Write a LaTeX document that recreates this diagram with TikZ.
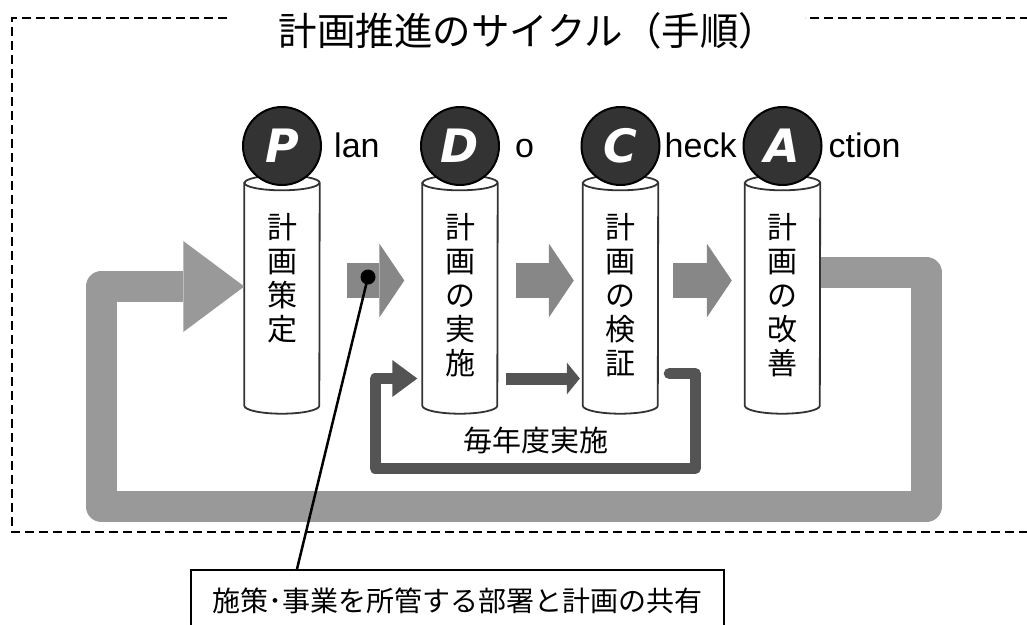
\documentclass[tikz,border=0pt]{standalone}
\usepackage{fontspec}
\setmainfont{Noto Sans CJK JP}
\newfontfamily\latinfont{Liberation Sans}
\newfontfamily\badgefont{DejaVu Sans}
\usetikzlibrary{arrows.meta,positioning}

\begin{document}
\begin{tikzpicture}[
    x=1pt, y=-1pt,
    pillar/.style={rectangle,minimum width=75pt,minimum height=238pt,inner sep=0pt},
    pillarline/.style={draw=black!80,line width=1.8pt,fill=white},
    badge/.style={circle,draw=black,line width=2pt,fill=black!80,minimum size=78pt,
                  inner sep=0pt,text=white,
                  font=\badgefont\bfseries\itshape\fontsize{46}{46}\selectfont},
    tail/.style={anchor=base west,inner sep=0pt,font=\latinfont\fontsize{34}{34}\selectfont},
    coltext/.style={align=center,inner sep=0pt,font=\fontsize{30}{34}\selectfont},
    steparrow/.style={draw=black!47,line width=35pt,
                      -{Triangle[width=74pt,length=25pt,line width=0pt]}},
    yeararrow/.style={draw=black!67,line width=12pt,
                      -{Triangle[width=32pt,length=13pt,line width=0pt]}},
    innerloop/.style={draw=black!67,line width=11pt,line join=round,line cap=round,
                      -{Triangle[width=37pt,length=25pt,line width=0pt]}},
    outerloop/.style={draw=black!40,line width=31pt,line join=round,
                      -{Triangle[width=91pt,length=61pt,line width=0pt]}},
    frame/.style={dash pattern=on 9pt off 5pt,line width=1.3pt},
  ]
  \useasboundingbox (0,0) rectangle (1027,624);

  % --- dashed frame and title ---
  \draw[frame] (227,18) -- (12,18) -- (12,532) -- (1040,532) -- (1040,18) -- (805,18);
  \node[font=\fontsize{38.5}{40}\selectfont] (title) at (528,31) {計画推進のサイクル（手順）};

  % --- the four pillars ---
  \node[pillar] (plan)   at (282,294.5)   {};
  \node[pillar] (do)     at (460,294.5)   {};
  \node[pillar] (check)  at (620.5,294.5) {};
  \node[pillar] (action) at (782.5,294.5) {};
  \foreach \n in {plan,do,check,action} {
    \draw[pillarline] ([yshift=-7.5pt]\n.north west) -- ([yshift=8pt]\n.south west)
         arc[start angle=180,end angle=360,x radius=37.5pt,y radius=8pt]
         -- ([yshift=-7.5pt]\n.north east)
         arc[start angle=0,end angle=180,x radius=37.5pt,y radius=7.5pt] -- cycle;
    \draw[pillarline,fill=none] ([yshift=-7.5pt]\n.north west)
         arc[start angle=180,end angle=360,x radius=37.5pt,y radius=7.5pt];
  }

  \node[coltext,below=38pt of plan.north]   (plantext)   {計\\画\\策\\定};
  \node[coltext,below=38pt of do.north]     (dotext)     {計\\画\\の\\実\\施};
  \node[coltext,below=38pt of check.north]  (checktext)  {計\\画\\の\\検\\証};
  \node[coltext,below=38pt of action.north] (actiontext) {計\\画\\の\\改\\善};

  % --- big yearly-plan loop ---
  \draw[outerloop,shorten <=1pt] ([yshift=22pt]action.east) -- ++(106,0) -- ++(0,234)
       -| ([xshift=-143pt,yshift=8pt]plan.west) -- ([yshift=8pt]plan.west);

  % --- step arrows ---
  \draw[steparrow,shorten <=27pt,shorten >=18pt] ([yshift=14pt]plan.east) -- ([yshift=14pt]do.west);
  \draw[steparrow,shorten <=18pt,shorten >=9pt] ([yshift=14pt]do.east) -- ([yshift=14pt]check.west);
  \draw[steparrow,shorten <=15pt,shorten >=13pt] ([yshift=14pt]check.east) -- ([yshift=14pt]action.west);

  % --- small every-year loop ---
  \draw[yeararrow,shorten <=8pt,shorten >=3pt] ([yshift=-84pt]do.east) -- ([yshift=-84pt]check.west);
  \draw[innerloop,shorten >=5pt] ([xshift=11pt,yshift=-79pt]check.east) -- ++(26,0) -- ++(0,95)
       -| ([xshift=-47pt,yshift=-84pt]do.west) -- ([yshift=-84pt]do.west);
  \node[font=\fontsize{29}{29}\selectfont] (yearlabel) at (536,440) {毎年度実施};

  % --- PDCA badges ---
  \node[badge] (P) at (282,146)   {P};
  \node[badge] (D) at (460,146)   {D};
  \node[badge] (C) at (620.5,146) {C};
  \node[badge] (A) at (782.5,146) {A};
  \node[tail] (plantail)   at ([xshift=12pt,yshift=-11pt]P.east) {lan};
  \node[tail] (dotail)     at ([xshift=15pt,yshift=-11pt]D.east) {o};
  \node[tail] (checktail)  at ([xshift=4pt,yshift=-11pt]C.east)  {heck};
  \node[tail] (actiontail) at ([xshift=6pt,yshift=-11pt]A.east)  {ction};

  % --- callout ---
  \node[circle,fill=black,minimum size=15pt,inner sep=0pt] (pin) at (368,277) {};
  \node[draw,line width=1.5pt,anchor=north west,minimum width=533pt,minimum height=62pt,
        inner sep=0pt,font=\fontsize{28}{28}\selectfont] (share) at (190,569)
        {施策･事業を所管する部署と計画の共有};
  \draw[line width=2.5pt] (pin.center) -- ([xshift=107pt]share.north west);

\end{tikzpicture}
\end{document}
